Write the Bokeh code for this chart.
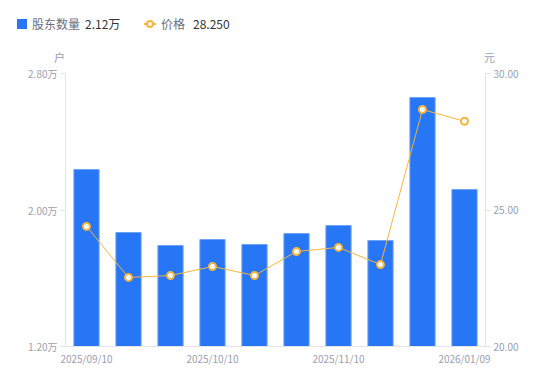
from bokeh.plotting import figure
from bokeh.layouts import column
from bokeh.models import (LinearAxis, Range1d, FixedTicker, ColumnDataSource,
                          CustomJSTickFormatter, Div)
from bokeh.embed import file_html
from bokeh.resources import INLINE

dates = ["2025/09/10", "2025/09/19", "2025/09/30", "2025/10/10", "2025/10/20",
         "2025/10/31", "2025/11/10", "2025/11/20", "2025/12/31", "2026/01/09"]
holders = [2.237, 1.868, 1.792, 1.827, 1.798, 1.862, 1.909, 1.821, 2.659, 2.12]  # 万户
prices = [24.40, 22.53, 22.60, 22.93, 22.60, 23.48, 23.63, 23.00, 28.68, 28.25]
left_ticks = [1.2, 2.0, 2.8]
right_ticks = [20.0, 25.0, 30.0]
shown_x = [0, 3, 6, 9]
legend_names = ["股东数量", "价格"]
legend_values = ["2.12万", "28.250"]
unit_left, unit_right = "户", "元"

FONT = "Noto Sans CJK SC"
GRAY = "#9b9eae"
LEG_GRAY = "#6b6d7c"
AXIS = "#e3e3e8"
BLUE = "#2776f5"
ORANGE = "#f7b53b"

# ---------------- header (legend + axis units) ----------------
def span(left, top, text, color, size):
    return (f'<span style="position:absolute;left:{left}px;top:{top}px;color:{color};'
            f'font-size:{size}px;line-height:{size + 2}px;white-space:nowrap;">{text}</span>')

html = (f'<div style="position:relative;width:550px;height:65px;font-family:\'{FONT}\';">'
        f'<span style="position:absolute;display:block;left:17px;top:19px;width:10px;height:10px;background:{BLUE};"></span>'
        + span(32, 17, legend_names[0], LEG_GRAY, 12)
        + span(85, 17, legend_values[0], "#333333", 12)
        + f'<span style="position:absolute;display:block;left:144px;top:23px;width:12px;height:2px;background:{ORANGE};"></span>'
        + f'<span style="position:absolute;display:block;box-sizing:border-box;left:146px;top:20px;width:8px;height:8px;'
          f'border:2px solid {ORANGE};border-radius:50%;background:#ffffff;"></span>'
        + span(161, 17, legend_names[1], LEG_GRAY, 12)
        + span(193, 17, legend_values[1], "#333333", 12)
        + span(54, 51, unit_left, GRAY, 11)
        + span(484, 51, unit_right, GRAY, 11)
        + '</div>')
header = Div(text=html, width=550, height=65, margin=0)

# ---------------- main chart ----------------
xs = list(range(len(dates)))
src = ColumnDataSource(dict(x=xs, h=holders, p=prices))

p = figure(frame_width=420, frame_height=273,
           x_range=Range1d(-0.5, len(dates) - 0.5), y_range=Range1d(1.2, 2.8),
           output_backend="svg", toolbar_location=None,
           min_border_left=65, min_border_right=65, min_border_top=8, min_border_bottom=35)
p.outline_line_color = None
p.grid.visible = False
p.background_fill_color = "white"
p.border_fill_color = "white"

p.extra_y_ranges = {"price": Range1d(20, 30)}

p.vbar(x="x", top="h", bottom=1.2, width=0.6, source=src,
       fill_color=BLUE, line_color="#6ea2f8", line_width=1)
p.line(x="x", y="p", source=src, y_range_name="price", line_color=ORANGE, line_width=1)
p.scatter(x="x", y="p", source=src, y_range_name="price", size=7,
          fill_color="white", line_color=ORANGE, line_width=2)

def style(ax):
    ax.axis_line_color = AXIS
    ax.major_tick_line_color = AXIS
    ax.minor_tick_line_color = None
    ax.major_tick_out = 5
    ax.major_tick_in = 0
    ax.major_label_text_color = GRAY
    ax.major_label_text_font = FONT
    ax.major_label_text_font_size = "10px"

xa = p.xaxis[0]
style(xa)
xa.ticker = FixedTicker(ticks=shown_x)
xa.major_label_overrides = {i: dates[i] for i in shown_x}
xa.major_tick_line_color = None
xa.major_tick_out = 0
xa.major_label_standoff = 4

ya = p.yaxis[0]
style(ya)
ya.ticker = FixedTicker(ticks=left_ticks)
ya.formatter = CustomJSTickFormatter(code="return tick.toFixed(2) + '万';")
ya.major_label_standoff = 3

ra = LinearAxis(y_range_name="price")
style(ra)
ra.ticker = FixedTicker(ticks=right_ticks)
ra.formatter = CustomJSTickFormatter(code="return tick.toFixed(2);")
ra.major_label_standoff = 3
p.add_layout(ra, "right")

layout = column(header, p, spacing=0)
open("out.html", "w").write(file_html(layout, INLINE))
